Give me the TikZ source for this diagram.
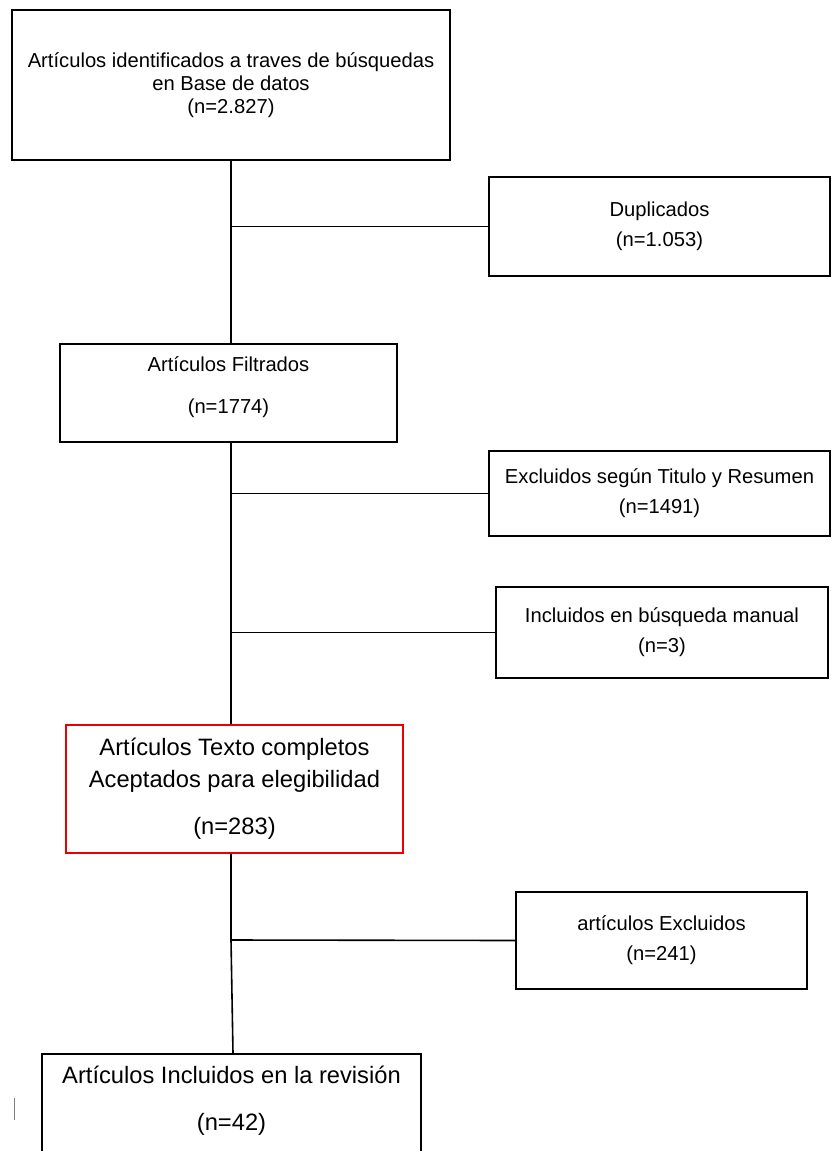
\documentclass[tikz,border=0pt]{standalone}
\usepackage{fontspec}
\setmainfont{Liberation Sans}
\definecolor{boxred}{RGB}{235,0,0}
\begin{document}
\begin{tikzpicture}[x=1pt,y=-1pt,
  box/.style={draw=black, line width=1.6pt, fill=white, inner sep=0pt, align=center,
    font=\fontsize{20.2}{30}\selectfont},
  redbox/.style={draw=boxred, line width=2.3pt, fill=white, inner sep=0pt, align=center,
    font=\fontsize{23.7}{32}\selectfont},
  conn/.style={draw=black, line width=1.6pt}]
\useasboundingbox (0,0) rectangle (831,1151);
\fill[white] (0,0) rectangle (831,1151);

\node[box, minimum width=438pt, minimum height=150pt,
  font=\fontsize{20.2}{23}\selectfont] (box1) at (231,85)
  {Artículos identificados a traves de búsquedas\\en Base de datos\\[0pt](n=2.827)};
\node[box, minimum width=341pt, minimum height=99pt] (dup) at (659.5,226.5)
  {Duplicados\\(n=1.053)};
\node[box, minimum width=337pt, minimum height=98pt, text depth=15pt] (filt) at (228.5,393)
  {Artículos Filtrados\\[12pt](n=1774)};
\node[box, minimum width=341pt, minimum height=85pt] (exc1) at (659.5,493.5)
  {Excluidos según Titulo y Resumen\\(n=1491)};
\node[box, minimum width=332pt, minimum height=91pt] (inc) at (662,632.5)
  {Incluidos en búsqueda manual\\(n=3)};
\node[redbox, minimum width=337pt, minimum height=128pt] (red) at (234.5,789)
  {Artículos Texto completos\\Aceptados para elegibilidad\\[15pt](n=283)};
\node[box, minimum width=291pt, minimum height=97pt] (exc2) at (661.5,940.5)
  {artículos Excluidos\\(n=241)};
\node[box, minimum width=379pt, minimum height=130pt, anchor=north] (final) at (231.5,1053) {};
\node[font=\fontsize{23.7}{47}\selectfont, align=center, inner sep=0pt] (finaltxt) at (231.5,1101)
  {Artículos Incluidos en la revisión\\(n=42)};

\coordinate (j4) at (231,940);
\draw[conn] (box1.south) -- (box1.south |- filt.north);
\draw[conn] (box1.south |- dup.west) -- (dup.west);
\draw[conn] (filt.south -| box1.south) -- (red.north -| box1.south);
\draw[conn] (exc1.west -| box1.south) -- (exc1.west);
\draw[conn] (inc.west -| box1.south) -- (inc.west);
\draw[conn] (red.south -| box1.south) -- (j4);
\draw[conn] (j4) -- (exc2.west);
\draw[conn] (j4) -- ([xshift=1.5pt]final.north);

\draw[gray, line width=1pt] (14,1098) -- (14,1120);
\end{tikzpicture}
\end{document}
